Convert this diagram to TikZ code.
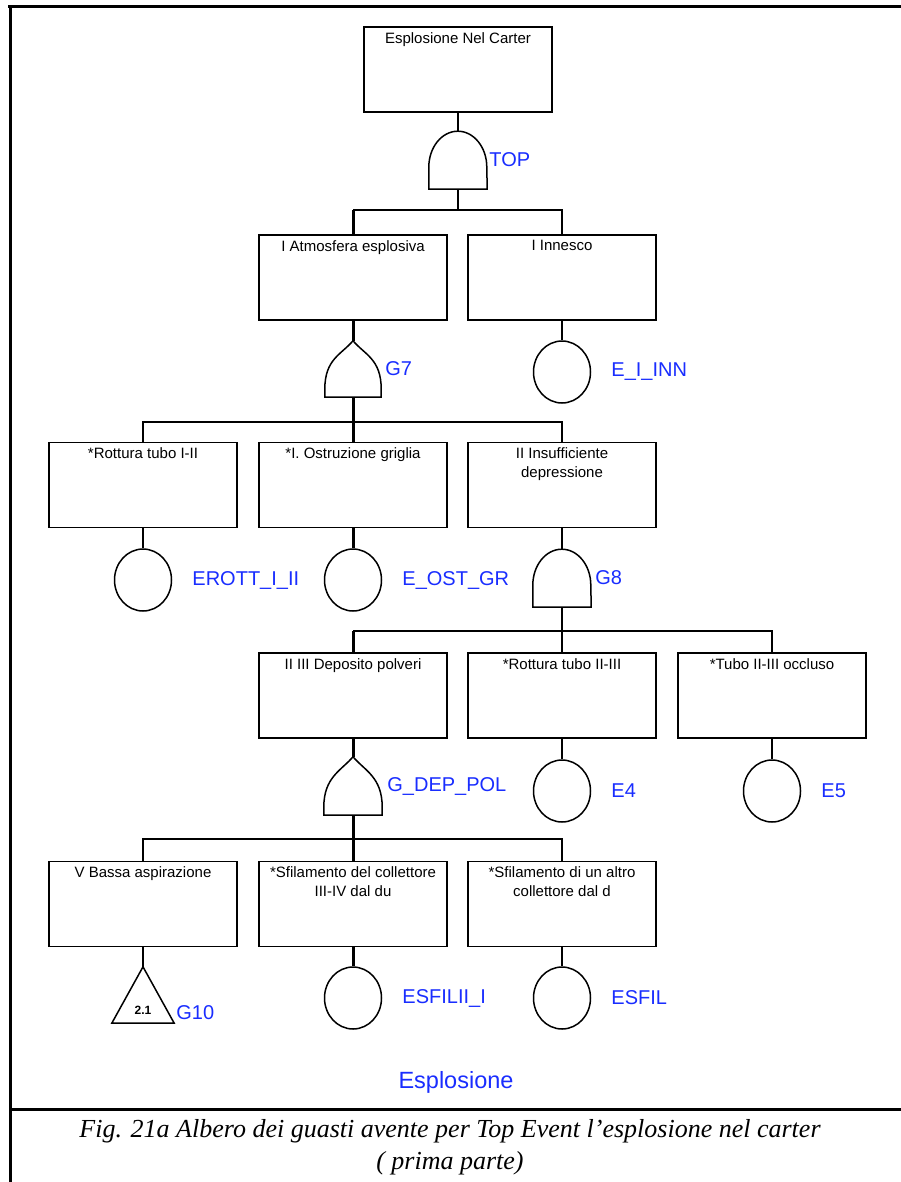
\documentclass[tikz,border=0pt]{standalone}
\usepackage{fontspec}
\setmainfont{Liberation Serif}
\setsansfont{Liberation Sans}
\usetikzlibrary{positioning,calc,shapes.geometric}

\definecolor{lblblue}{RGB}{25,45,255}

% gate symbols drawn on an empty node
\newcommand{\andgate}[1]{%
  \draw[gate] (#1.south west) -- ++(0,-22) arc[start angle=180, end angle=0, x radius=29pt, y radius=36pt] -- (#1.south east) -- cycle;}
\newcommand{\orgate}[1]{%
  \draw[gate] (#1.south west) -- ++(0,-8) .. controls +(0,-30) and +(-12,14) .. (#1.north)
    .. controls +(12,14) and +(0,-30) .. ($(#1.south east)+(0,-8)$) -- (#1.south east) -- cycle;}
\newcommand{\transfer}[1]{%
  \draw[gate] (#1.south west) -- (#1.north) -- (#1.south east) -- cycle;}

\begin{document}
\begin{tikzpicture}[x=1pt, y=-1pt,
    evbox/.style={draw, line width=1.5pt, minimum width=188, minimum height=85, inner sep=0pt},
    evtext/.style={anchor=north, inner sep=0pt, yshift=-6pt, align=center, font=\sffamily\fontsize{15}{19}\selectfont},
    basic/.style={draw, ellipse, line width=1.5pt, minimum width=57, minimum height=62, inner sep=0pt},
    gatebox/.style={minimum width=58, minimum height=58, inner sep=0pt},
    gate/.style={line width=1.5pt},
    lbl/.style={text=lblblue, font=\sffamily\fontsize{20}{22}\selectfont, inner sep=0pt},
    conn/.style={line width=1.5pt},
    connthick/.style={line width=3pt}]
  \useasboundingbox (0,0) rectangle (901,1182);

  % frame
  \draw[line width=3pt] (8,7) -- (901,7);
  \draw[line width=3pt] (10,6) -- (10,1182);
  \draw[line width=3pt] (10,1109) -- (901,1109);

  % top event
  \node[evbox] (topev) at (458,69.5) {};
  \node[evtext] (topevt) at (topev.north) {Esplosione Nel Carter};
  \node[gatebox] (topg) at (458,160) {};
  \andgate{topg}
  \node[lbl, right=2pt of topg] (toplbl) {TOP};

  % level 1
  \node[evbox] (atm) at (353,277.5) {};
  \node[evtext] (atmt) at (atm.north) {I Atmosfera esplosiva};
  \node[evbox] (inn) at (562,277.5) {};
  \node[evtext] (innt) at (inn.north) {I Innesco};
  \node[gatebox, minimum width=56, minimum height=56] (g7) at (353,369) {};
  \orgate{g7}
  \node[lbl, right=4pt of g7] (g7lbl) {G7};
  \node[basic] (einn) at (562,372) {};
  \node[lbl, right=20pt of einn] (einnlbl) {E\_I\_INN};

  % level 2
  \node[evbox] (rot1) at (143,485) {};
  \node[evtext] (rot1t) at (rot1.north) {*Rottura tubo I-II};
  \node[evbox] (ost) at (353,485) {};
  \node[evtext] (ostt) at (ost.north) {*I. Ostruzione griglia};
  \node[evbox] (ins) at (562,485) {};
  \node[evtext] (inst) at (ins.north) {II Insufficiente\\depressione};
  \node[basic] (erott) at (143,580) {};
  \node[lbl, right=20pt of erott] (erottlbl) {EROTT\_I\_II};
  \node[basic] (eost) at (353,580) {};
  \node[lbl, right=20pt of eost] (eostlbl) {E\_OST\_GR};
  \node[gatebox] (g8) at (562,578) {};
  \andgate{g8}
  \node[lbl, right=4pt of g8] (g8lbl) {G8};

  % level 3
  \node[evbox] (depo) at (353,695.5) {};
  \node[evtext] (depot) at (depo.north) {II III Deposito polveri};
  \node[evbox] (rot2) at (562,695.5) {};
  \node[evtext] (rot2t) at (rot2.north) {*Rottura tubo II-III};
  \node[evbox] (tubo) at (772,695.5) {};
  \node[evtext] (tubot) at (tubo.north) {*Tubo II-III occluso};
  \node[gatebox] (gdep) at (353,786) {};
  \orgate{gdep}
  \node[lbl, right=5pt of gdep] (gdeplbl) {G\_DEP\_POL};
  \node[basic] (e4) at (562,791) {};
  \node[lbl, right=20pt of e4] (e4lbl) {E4};
  \node[basic] (e5) at (772,791) {};
  \node[lbl, right=20pt of e5] (e5lbl) {E5};

  % level 4
  \node[evbox] (bassa) at (143,904) {};
  \node[evtext] (bassat) at (bassa.north) {V Bassa aspirazione};
  \node[evbox] (sfil1) at (353,904) {};
  \node[evtext] (sfil1t) at (sfil1.north) {*Sfilamento del collettore\\III-IV dal du};
  \node[evbox] (sfil2) at (562,904) {};
  \node[evtext] (sfil2t) at (sfil2.north) {*Sfilamento di un altro\\collettore dal d};
  \node[gatebox, minimum width=62, minimum height=56] (g10) at (143,995) {};
  \transfer{g10}
  \node[font=\sffamily\bfseries\fontsize{12}{12}\selectfont, inner sep=0pt] (g10num) at ($(g10.south)+(0,-13)$) {2.1};
  \node[lbl, anchor=south west] (g10lbl) at ($(g10.south east)+(2,-3)$) {G10};
  \node[basic] (esfil1) at (353,998) {};
  \node[lbl, right=20pt of esfil1] (esfil1lbl) {ESFILII\_I};
  \node[basic] (esfil2) at (562,998) {};
  \node[lbl, right=20pt of esfil2] (esfil2lbl) {ESFIL};

  % connectors
  \coordinate (j1) at (458,210);
  \coordinate (j2) at (353,422);
  \coordinate (j3) at (562,631);
  \coordinate (j4) at (353,839);
  \draw[conn] (topev.south) -- (topg.north);
  \draw[conn] (topg.south) -- (j1);
  \draw[conn] (atm.north |- j1) -- (inn.north |- j1) -- (inn.north);
  \draw[connthick] (atm.north |- j1) -- (atm.north);
  \draw[connthick] (atm.south) -- (g7.north);
  \draw[conn] (inn.south) -- (einn.north);
  \draw[connthick] (g7.south) -- (j2) -- (ost.north);
  \draw[conn] (rot1.north) |- (j2) -| (ins.north);
  \draw[conn] (rot1.south) -- (erott.north);
  \draw[connthick] (ost.south) -- (eost.north);
  \draw[conn] (ins.south) -- (g8.north);
  \draw[conn] (g8.south) -- (j3) -- (rot2.north);
  \draw[conn] (depo.north |- j3) -- (tubo.north |- j3) -- (tubo.north);
  \draw[connthick] (depo.north |- j3) -- (depo.north);
  \draw[connthick] (depo.south) -- (gdep.north);
  \draw[conn] (rot2.south) -- (e4.north);
  \draw[conn] (tubo.south) -- (e5.north);
  \draw[connthick] (gdep.south) -- (j4) -- (sfil1.north);
  \draw[conn] (bassa.north) |- (j4) -| (sfil2.north);
  \draw[conn] (bassa.south) -- (g10.north);
  \draw[connthick] (sfil1.south) -- (esfil1.north);
  \draw[conn] (sfil2.south) -- (esfil2.north);

  % tree name and caption
  \node[lbl, font=\sffamily\fontsize{23.5}{26}\selectfont] (treename) at (456,1082) {Esplosione};
  \node[font=\itshape\fontsize{26}{32}\selectfont, align=center, inner sep=0pt] (cap) at (450,1147)
    {Fig. 21a Albero dei guasti avente per Top Event l’esplosione nel carter\\( prima parte)};
\end{tikzpicture}
\end{document}
